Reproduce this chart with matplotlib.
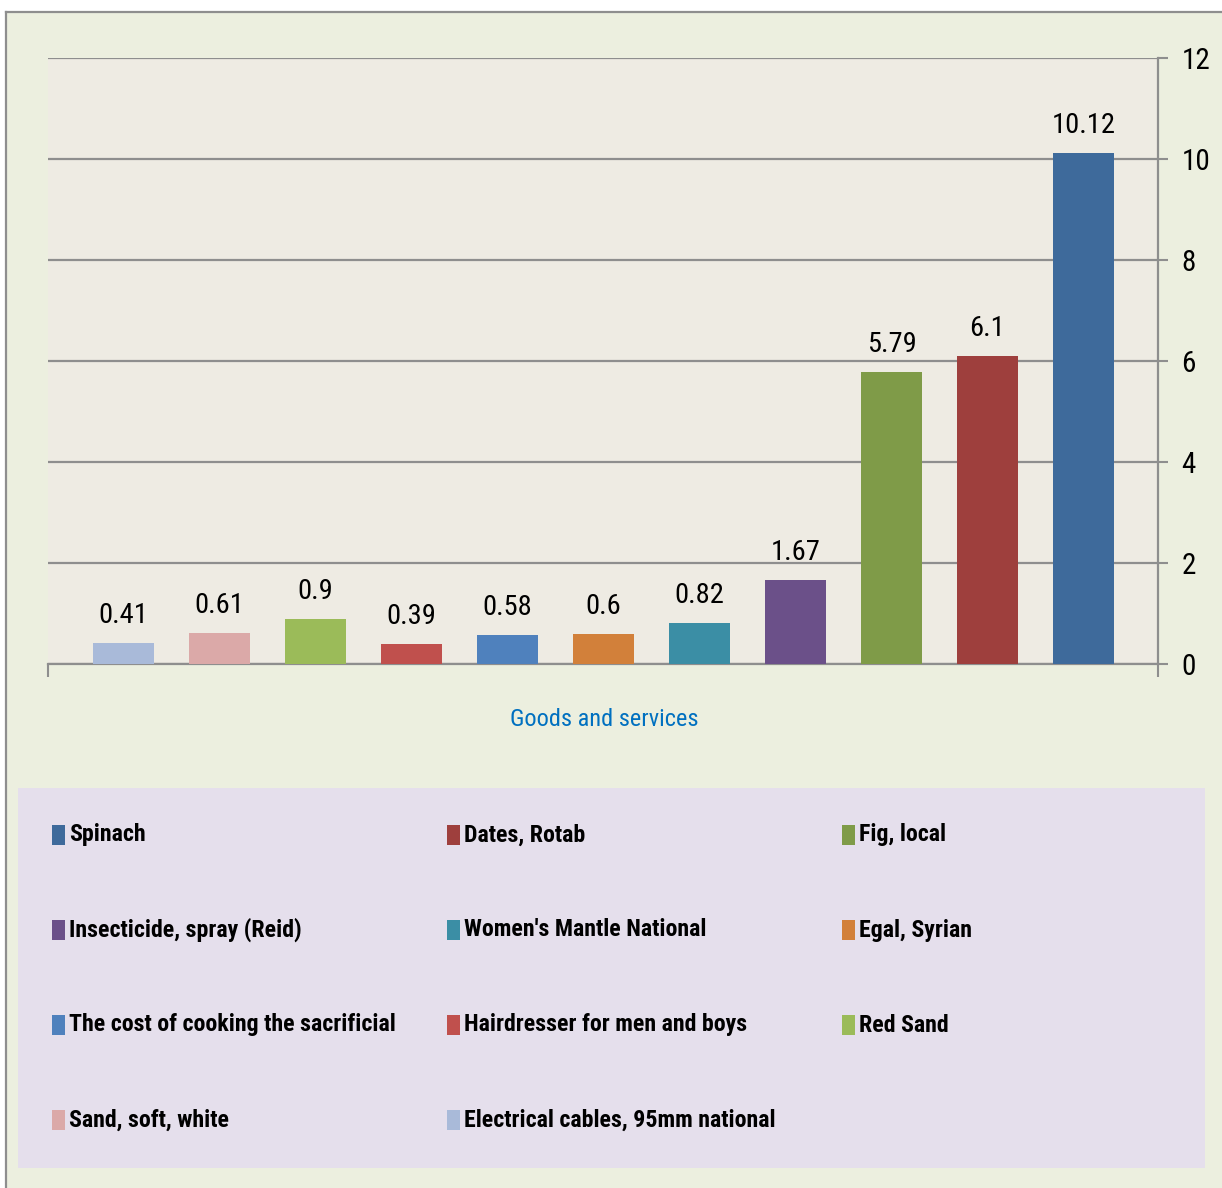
import matplotlib
matplotlib.use("Agg")
import matplotlib.pyplot as plt
import matplotlib.font_manager as fm
from matplotlib.patches import Rectangle
from matplotlib.lines import Line2D

# ---------------- data ----------------
categories = [
    "Electrical cables, 95mm national",
    "Sand, soft, white",
    "Red Sand",
    "Hairdresser for men and boys",
    "The cost of cooking the sacrificial",
    "Egal, Syrian",
    "Women's Mantle National",
    "Insecticide, spray (Reid)",
    "Fig, local",
    "Dates, Rotab",
    "Spinach",
]
values = [0.41, 0.61, 0.9, 0.39, 0.58, 0.6, 0.82, 1.67, 5.79, 6.1, 10.12]
value_labels = ["0.41", "0.61", "0.9", "0.39", "0.58", "0.6", "0.82", "1.67", "5.79", "6.1", "10.12"]
colors = ["#A9BAD9", "#DBA9A8", "#9BBB59", "#C0504D", "#4F81BD", "#D2803A",
          "#3B8EA5", "#6B5089", "#7F9B48", "#9E3F3D", "#3E6A9B"]
legend_order = [
    "Spinach", "Dates, Rotab", "Fig, local",
    "Insecticide, spray (Reid)", "Women's Mantle National", "Egal, Syrian",
    "The cost of cooking the sacrificial", "Hairdresser for men and boys", "Red Sand",
    "Sand, soft, white", "Electrical cables, 95mm national",
]
y_ticks = [0, 2, 4, 6, 8, 10, 12]
x_title = "Goods and services"

# ---------------- font ----------------
names = {f.name for f in fm.fontManager.ttflist}
family = None
for cand in ["Liberation Sans Narrow", "Roboto Condensed", "Open Sans Condensed",
             "Arial Narrow", "Noto Sans Condensed"]:
    if cand in names:
        family = cand
        break
stretch = "normal"
if family is None:
    family = "DejaVu Sans"
    stretch = "condensed"
plt.rcParams["font.family"] = [family, "DejaVu Sans"]
plt.rcParams["font.stretch"] = stretch

W, H = 1222, 1188
def fx(px): return px / W
def fy(py): return 1 - py / H

fig = plt.figure(figsize=(W / 100, H / 100), dpi=100)
fig.patch.set_facecolor("white")

# chart area background with left/top border
fig.add_artist(Rectangle((fx(5), fy(1188)), fx(1222) - fx(5), fy(11) - fy(1188),
                         transform=fig.transFigure, facecolor="#ECEFDF",
                         edgecolor="none", zorder=0))
fig.add_artist(Line2D([fx(5.5), fx(5.5)], [fy(1188), fy(11.5)], transform=fig.transFigure,
                      color="#8E8E8E", lw=1.6, zorder=1))
fig.add_artist(Line2D([fx(5.5), fx(1222)], [fy(11.5), fy(11.5)], transform=fig.transFigure,
                      color="#8E8E8E", lw=1.6, zorder=1))

# ---------------- axes ----------------
ax_l, ax_r, ax_t, ax_b = 48, 1158, 58, 664
ax = fig.add_axes([fx(ax_l), fy(ax_b), fx(ax_r) - fx(ax_l), fy(ax_t) - fy(ax_b)])
ax.set_facecolor("#EEEBE3")

x = list(range(len(categories)))
ax.bar(x, values, width=0.635, color=colors, zorder=3)
ax.set_xlim(-0.786, 10.776)
ax.set_ylim(0, 12)

for xi, v, lab in zip(x, values, value_labels):
    ax.annotate(lab, (xi, v), xytext=(0, 10), textcoords="offset points",
                ha="center", va="bottom", fontsize=20.5, color="#000000", zorder=4)

ax.yaxis.tick_right()
ax.set_yticks(y_ticks)
ax.set_yticklabels([str(t) for t in y_ticks], fontsize=21)
ax.tick_params(axis="y", direction="out", length=7, width=1.5, color="#8E8E8E", pad=10)
ax.set_xticks([-0.786, 10.776])
ax.set_xticklabels([])
ax.tick_params(axis="x", direction="out", length=9.5, width=1.5, color="#8E8E8E")
ax.grid(axis="y", color="#8E8E8E", lw=1.6, zorder=1)
ax.set_axisbelow(True)
for s in ["left", "top"]:
    ax.spines[s].set_visible(False)
for s in ["right", "bottom"]:
    ax.spines[s].set_color("#8E8E8E")
    ax.spines[s].set_linewidth(1.6)

fig.text(fx(604), fy(720), x_title, ha="center", va="center", fontsize=17.6,
         color="#0070C0")

# ---------------- legend ----------------
fig.add_artist(Rectangle((fx(18), fy(1168)), fx(1205) - fx(18), fy(788) - fy(1168),
                         transform=fig.transFigure, facecolor="#E5DFEC",
                         edgecolor="none", zorder=1))
col_x = [52, 447, 842]
row_y = [835, 930, 1025, 1120]
for i, name in enumerate(legend_order):
    r, c = divmod(i, 3)
    col = colors[categories.index(name)]
    x0 = col_x[c]
    yc = row_y[r]
    fig.add_artist(Rectangle((fx(x0), fy(yc + 10)), fx(13), 20 / H,
                             transform=fig.transFigure, facecolor=col,
                             edgecolor="none", zorder=2))
    fig.text(fx(x0 + 17), fy(yc), name, ha="left", va="center", fontsize=17.2,
             fontweight="bold", color="#000000", zorder=3)

fig.savefig("out.png", dpi=100, facecolor=fig.get_facecolor())
